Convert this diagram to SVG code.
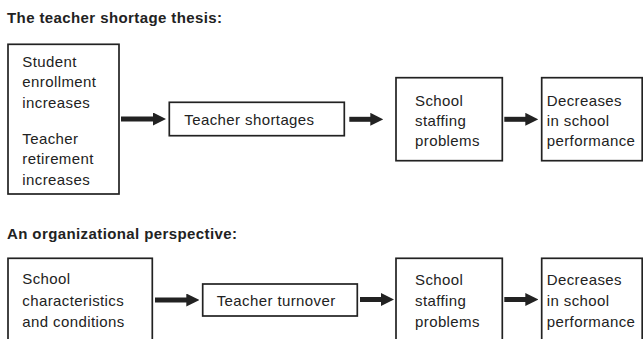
<svg xmlns="http://www.w3.org/2000/svg" width="643" height="339" viewBox="0 0 643 339">
<style>
  .bg { fill: #ffffff; }
  .box { fill: #ffffff; stroke: #222222; stroke-width: 1.7; }
  .t { font-family: "Liberation Sans", Arial, sans-serif; font-size: 15px; letter-spacing: 0.4px; fill: #222222; }
  .h { font-family: "Liberation Sans", Arial, sans-serif; font-size: 15px; font-weight: bold; letter-spacing: 0.4px; fill: #222222; }
  .arr { stroke: #222222; stroke-width: 5; fill: none; marker-end: url(#head); }
</style>
<defs>
  <marker id="head" markerUnits="userSpaceOnUse" markerWidth="13" markerHeight="13" refX="1" refY="6.5" orient="auto">
    <path d="M0,0 L13,6.5 L0,13 Z" fill="#222222"/>
  </marker>
</defs>
<rect class="bg" x="0" y="0" width="643" height="339"/>

<text class="h" x="7" y="22.7">The teacher shortage thesis:</text>
<text class="h" x="7" y="239.3">An organizational perspective:</text>

<g id="connectors">
  <line class="arr" x1="121" y1="119" x2="154" y2="119"/>
  <line class="arr" x1="349.3" y1="119.3" x2="371.3" y2="119.3"/>
  <line class="arr" x1="504.3" y1="119.3" x2="526.3" y2="119.3"/>
  <line class="arr" x1="155" y1="300" x2="187.3" y2="300"/>
  <line class="arr" x1="360" y1="299.5" x2="382" y2="299.5"/>
  <line class="arr" x1="504.3" y1="299.5" x2="526.3" y2="299.5"/>
</g>

<g id="node-causes">
  <rect class="box" x="8" y="44.3" width="111" height="149.7"/>
  <text class="t" x="22.3" y="66.7">Student</text>
  <text class="t" x="22.3" y="87.4">enrollment</text>
  <text class="t" x="22.3" y="108.1">increases</text>
  <text class="t" x="22.3" y="143.5">Teacher</text>
  <text class="t" x="22.3" y="164.2">retirement</text>
  <text class="t" x="22.3" y="184.9">increases</text>
</g>
<g id="node-shortages">
  <rect class="box" x="169.3" y="102.3" width="175" height="33.4"/>
  <text class="t" x="184.3" y="125">Teacher shortages</text>
</g>
<g id="node-staffing-1">
  <rect class="box" x="396" y="77.7" width="106.3" height="83"/>
  <text class="t" x="415" y="105.7">School</text>
  <text class="t" x="415" y="126">staffing</text>
  <text class="t" x="415" y="146.3">problems</text>
</g>
<g id="node-performance-1">
  <rect class="box" x="541.7" y="77.7" width="100.5" height="83"/>
  <text class="t" x="546.7" y="105.7">Decreases</text>
  <text class="t" x="546.7" y="126">in school</text>
  <text class="t" x="546.7" y="146.3">performance</text>
</g>

<g id="node-conditions">
  <rect class="box" x="8" y="258.3" width="144.3" height="100"/>
  <text class="t" x="22.3" y="284.3">School</text>
  <text class="t" x="22.3" y="305.5">characteristics</text>
  <text class="t" x="22.3" y="326.7">and conditions</text>
</g>
<g id="node-turnover">
  <rect class="box" x="202.7" y="284" width="154.6" height="32"/>
  <text class="t" x="216.7" y="305.7">Teacher turnover</text>
</g>
<g id="node-staffing-2">
  <rect class="box" x="396" y="258.3" width="106.3" height="100"/>
  <text class="t" x="415" y="284.8">School</text>
  <text class="t" x="415" y="305.8">staffing</text>
  <text class="t" x="415" y="326.7">problems</text>
</g>
<g id="node-performance-2">
  <rect class="box" x="541.7" y="258.3" width="100.5" height="100"/>
  <text class="t" x="546.7" y="284.8">Decreases</text>
  <text class="t" x="546.7" y="305.8">in school</text>
  <text class="t" x="546.7" y="326.7">performance</text>
</g>
</svg>
